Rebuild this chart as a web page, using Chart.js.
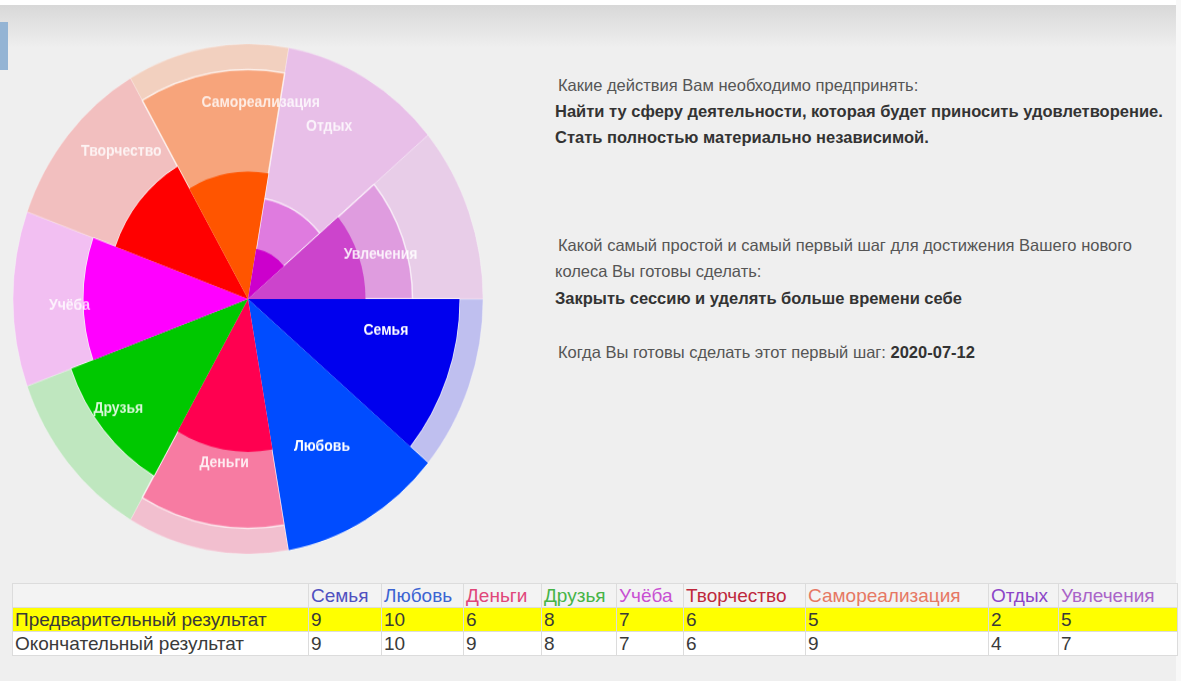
<!DOCTYPE html>
<html lang="ru">
<head>
<meta charset="utf-8">
<title>Колесо баланса</title>
<script src="https://cdn.jsdelivr.net/npm/chart.js@4.4.0/dist/chart.umd.min.js"></script>
<style>
html, body { margin: 0; padding: 0; }
body {
    width: 1181px; height: 681px; overflow: hidden; position: relative;
    background: #efefef;
    font-family: "Liberation Sans", Arial, sans-serif;
}
#topband {
    position: absolute; left: 0; top: 0; width: 1176px; height: 48px;
    box-sizing: border-box; border-top: 5px solid #fff;
    background: linear-gradient(#d8d8d8, #efefef);
}
#rightedge { position: absolute; right: 0; top: 0; width: 5px; height: 681px; background: #f8f8f8; }
#leftmark { position: absolute; left: 0; top: 22px; width: 8px; height: 48px; background: #94b4d4; }
#wheel {
    position: absolute; left: 13px; top: 44px; width: 470px; height: 470px;
    transform: scaleY(1.085); transform-origin: 0 0;
}
.txt { position: absolute; left: 555px; font-size: 16.5px; line-height: 20px; color: #555; white-space: nowrap; }
.txt.b { font-weight: bold; color: #333; }
#results {
    position: absolute; left: 12px; top: 583px; width: 1165px;
    table-layout: fixed; border-collapse: collapse; font-size: 19px;
}
#results td {
    border: 1px solid #dcdcdc; padding: 0 2px; height: 23px; line-height: 23px;
    white-space: nowrap; overflow: hidden; color: #3a3a3a;
}
#results tr.head td { background: #f3f3f3; }
#results tr.pre td { background: #ffff00; }
#results tr.fin td { background: #fff; }
</style>
</head>
<body>
<div id="topband"></div>
<div id="rightedge"></div>
<div id="leftmark"></div>
<div id="wheel"><canvas id="balanceWheel"></canvas></div>

<div class="txt" style="top:75px;left:558px">Какие действия Вам необходимо предпринять:</div>
<div class="txt b" style="top:101px">Найти ту сферу деятельности, которая будет приносить удовлетворение.</div>
<div class="txt b" style="top:127px">Стать полностью материально независимой.</div>

<div class="txt" style="top:235px;left:558px">Какой самый простой и самый первый шаг для достижения Вашего нового</div>
<div class="txt" style="top:261px">колеса Вы готовы сделать:</div>
<div class="txt b" style="top:288px">Закрыть сессию и уделять больше времени себе</div>

<div class="txt" style="top:342px;left:558px">Когда Вы готовы сделать этот первый шаг: <b style="color:#333">2020-07-12</b></div>

<table id="results"></table>

<script>
var categories = ['Семья', 'Любовь', 'Деньги', 'Друзья', 'Учёба', 'Творчество', 'Самореализация', 'Отдых', 'Увлечения'];
var preliminary = [9, 10, 6, 8, 7, 6, 5, 2, 5];
var finalResult = [9, 10, 9, 8, 7, 6, 9, 4, 7];
var maxValues = [10, 10, 10, 10, 10, 10, 10, 10, 10];
var rowNames = ['Предварительный результат', 'Окончательный результат'];

// segment colours, r g b
var baseColors = [
    [0, 0, 238], [0, 76, 255], [255, 0, 80], [0, 200, 0], [255, 0, 255],
    [255, 0, 0], [255, 85, 0], [204, 0, 204], [204, 68, 204]
];
var headColors = ['#5050c0', '#3c64d2', '#e0467a', '#46b446', '#c850d2', '#be283c', '#e67864', '#8c46c8', '#aa64c8'];
var colWidths = [296, 73, 82, 78, 75, 67, 122, 183, 70, 119];

function rgba(c, a) {
    return 'rgba(' + c[0] + ',' + c[1] + ',' + c[2] + ',' + a + ')';
}

// label tweaks: angle shift (deg) from segment middle, distance as part of radius
var labelShift = [-8, 1.5, -1, 2, -2, 7, 14, -3, 3];
var labelDist = [0.60, 0.66, 0.65, 0.70, 0.76, 0.79, 0.77, 0.76, 0.59];
var labelAlpha = [1, 1, 0.85, 0.85, 0.8, 0.8, 0.8, 0.8, 0.85];

var segmentLabels = {
    id: 'segmentLabels',
    afterDatasetsDraw: function(chart) {
        var meta = chart.getDatasetMeta(2);
        var scale = chart.scales.r;
        var ctx = chart.ctx;
        ctx.save();
        ctx.font = 'bold 14px "Liberation Sans", Arial, sans-serif';
        ctx.textAlign = 'center';
        ctx.textBaseline = 'middle';
        meta.data.forEach(function(arc, i) {
            var a = (arc.startAngle + arc.endAngle) / 2 + labelShift[i] * Math.PI / 180;
            var r = scale.drawingArea * labelDist[i];
            ctx.fillStyle = 'rgba(255,255,255,' + labelAlpha[i] + ')';
            ctx.fillText(categories[i], scale.xCenter + r * Math.cos(a), scale.yCenter + r * Math.sin(a));
        });
        ctx.restore();
    }
};

var config = {
    type: 'polarArea',
    data: {
        labels: categories,
        datasets: [{
            label: rowNames[0],
            data: preliminary,
            backgroundColor: baseColors.map(function(c) { return rgba(c, 1); }),
            borderWidth: 0
        }, {
            label: rowNames[1],
            data: finalResult,
            backgroundColor: baseColors.map(function(c) { return rgba(c, 0.36); }),
            borderColor: 'rgba(255,255,255,0.7)',
            borderWidth: 1.5
        }, {
            label: 'max',
            data: maxValues,
            backgroundColor: baseColors.map(function(c) { return rgba(c, 0.2); }),
            borderColor: 'rgba(255,255,255,0.25)',
            borderWidth: 1
        }]
    },
    options: {
        responsive: true,
        maintainAspectRatio: false,
        animation: false,
        layout: { padding: 0 },
        plugins: {
            legend: { display: false },
            tooltip: { enabled: false }
        },
        scales: {
            r: {
                min: 0,
                max: 10,
                startAngle: 90,
                ticks: { display: false },
                grid: { display: false },
                angleLines: { display: false },
                pointLabels: { display: false }
            }
        }
    },
    plugins: [segmentLabels]
};

var ctx = document.getElementById('balanceWheel');
var wheel = new Chart(ctx, config);

// results table built from the same arrays
var table = document.getElementById('results');
var html = '<colgroup>';
colWidths.forEach(function(w) { html += '<col style="width:' + w + 'px">'; });
html += '</colgroup><tr class="head"><td></td>';
categories.forEach(function(c, i) { html += '<td style="color:' + headColors[i] + '">' + c + '</td>'; });
html += '</tr><tr class="pre"><td>' + rowNames[0] + '</td>';
preliminary.forEach(function(v) { html += '<td>' + v + '</td>'; });
html += '</tr><tr class="fin"><td>' + rowNames[1] + '</td>';
finalResult.forEach(function(v) { html += '<td>' + v + '</td>'; });
html += '</tr>';
table.innerHTML = html;
</script>
</body>
</html>
